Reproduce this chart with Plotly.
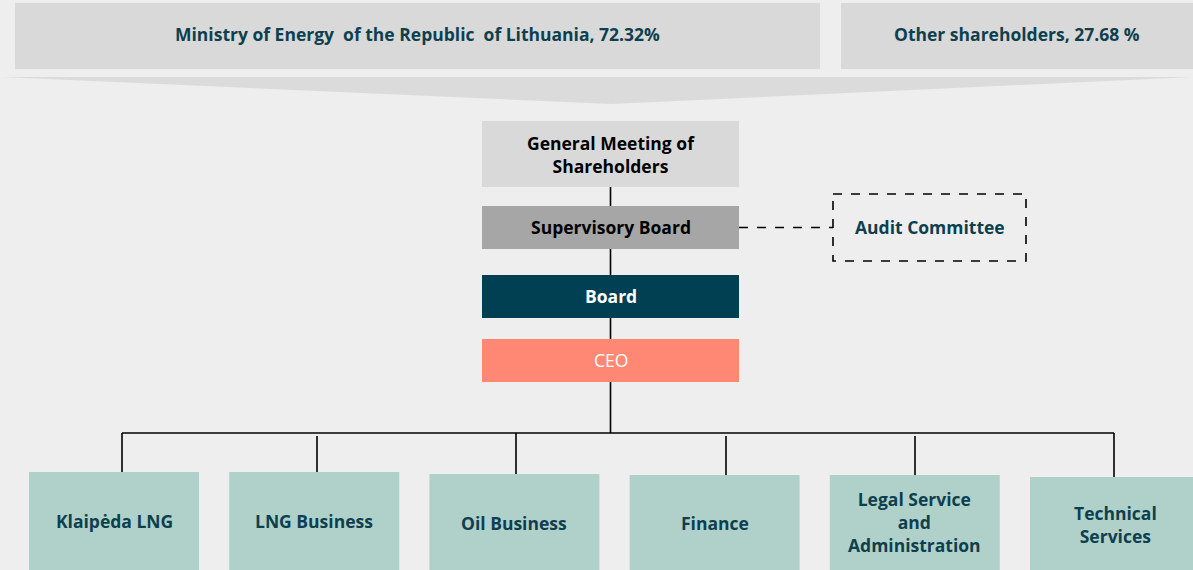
"""Org chart of the company's governance structure, drawn with plotly shapes."""
from __future__ import annotations

import plotly.graph_objects as go

# ---- data -------------------------------------------------------------------
SHAREHOLDERS = ["Ministry of Energy  of the Republic  of Lithuania", "Other shareholders"]
SHARE_PCT = ["72.32%", "27.68 %"]
GOVERNANCE = ["General Meeting of<br>Shareholders", "Supervisory Board", "Board", "CEO"]
SIDE_UNIT = "Audit Committee"
DEPARTMENTS = [
    "Klaipėda LNG",
    "LNG Business",
    "Oil Business",
    "Finance",
    "Legal Service<br>and<br>Administration",
    "Technical<br>Services",
]

# ---- style ------------------------------------------------------------------
_BG = "#EEEEEE"
_GREY = "#D9D9D9"
_MID = "#A6A6A6"
_TEAL = "#014052"
_SALMON = "#FF8874"
_MINT = "#B0D1CA"
_INK = "#0E3F4F"
_FONT = "Open Sans"
_SIZE = 17.5
W, H = 1193, 570

# layout frames (x0, y0, x1, y1) in pixel space
_TOP_BOXES = [(15, 3, 820, 69), (841, 3, 1193, 69)]
_GOV_X = (482, 739)
_GOV_Y = [(121, 187), (206, 249), (275, 318), (339, 382)]
_GOV_FILL = [_GREY, _MID, _TEAL, _SALMON]
_GOV_TEXT = ["black", "black", "white", "white"]
_GOV_BOLD = [True, True, True, False]
_AUDIT = (833, 194, 1026, 261)
_BUS_Y = 433
_DEPT_LEFT = 29
_DEPT_W = 170
_DEPT_STEP = 200.2
_DEPT_TOP = [472, 472, 474, 475, 475, 477]
_DEPT_LINK_X = [122, 317, 516, 726, 915, 1114]
_DEPT_LINK_Y0 = [433, 436, 433, 436, 436, 433]
_DEPT_TEXT_Y = [521, 521, 523, 523, 522, 524]


def _rect(fig, x0, y0, x1, y1, fill, line=None):
    fig.add_shape(type="rect", x0=x0, y0=y0, x1=x1, y1=y1, fillcolor=fill,
                  line=line or dict(width=0), layer="below")


def _line(fig, x0, y0, x1, y1, dash="solid"):
    fig.add_shape(type="line", x0=x0, y0=y0, x1=x1, y1=y1,
                  line=dict(color="black", width=1.6, dash=dash))


def _text(fig, x, y, text, color=_INK, bold=True):
    fig.add_annotation(x=x, y=y, text=f"<b>{text}</b>" if bold else text,
                       showarrow=False, xanchor="center", yanchor="middle",
                       font=dict(family=_FONT, size=_SIZE, color=color))


def org_chart() -> go.Figure:
    fig = go.Figure()

    # shareholders
    for (x0, y0, x1, y1), name, pct in zip(_TOP_BOXES, SHAREHOLDERS, SHARE_PCT):
        _rect(fig, x0, y0, x1, y1, _GREY)
        _text(fig, (x0 + x1) / 2, (y0 + y1) / 2 - 2, f"{name}, {pct}")
    # funnel arrow pointing down to the general meeting
    fig.add_shape(type="path", path="M 2,77 L 1193,77 L 611,104 Z",
                  fillcolor="#DBDBDB", line=dict(width=0), layer="below")

    # governance chain
    cx = sum(_GOV_X) / 2
    for i, (label, (y0, y1)) in enumerate(zip(GOVERNANCE, _GOV_Y)):
        _rect(fig, _GOV_X[0], y0, _GOV_X[1], y1, _GOV_FILL[i])
        _text(fig, cx, (y0 + y1) / 2 - (i > 0), label, color=_GOV_TEXT[i],
              bold=_GOV_BOLD[i])
        if i:
            _line(fig, cx, _GOV_Y[i - 1][1], cx, y0)

    # audit committee (dashed)
    ax0, ay0, ax1, ay1 = _AUDIT
    fig.add_shape(type="rect", x0=ax0, y0=ay0, x1=ax1, y1=ay1,
                  fillcolor="rgba(0,0,0,0)",
                  line=dict(color="black", width=1.6, dash="dash"))
    _line(fig, _GOV_X[1], (ay0 + ay1) / 2, ax0, (ay0 + ay1) / 2, dash="dash")
    _text(fig, (ax0 + ax1) / 2, (ay0 + ay1) / 2 - 1, SIDE_UNIT)

    # departments
    _line(fig, cx, _GOV_Y[-1][1], cx, _BUS_Y)
    for i, label in enumerate(DEPARTMENTS):
        x0 = _DEPT_LEFT + i * _DEPT_STEP
        x1 = min(x0 + _DEPT_W, W)
        _rect(fig, x0, _DEPT_TOP[i], x1, H + 5, _MINT)
        _line(fig, _DEPT_LINK_X[i], _DEPT_LINK_Y0[i], _DEPT_LINK_X[i], _DEPT_TOP[i])
        _text(fig, x0 + _DEPT_W / 2, _DEPT_TEXT_Y[i], label)
    _line(fig, _DEPT_LINK_X[0], _BUS_Y, _DEPT_LINK_X[-1], _BUS_Y)

    fig.update_layout(
        width=W, height=H, margin=dict(l=0, r=0, t=0, b=0),
        paper_bgcolor=_BG, plot_bgcolor=_BG, showlegend=False,
        xaxis=dict(range=[0, W], visible=False, fixedrange=True),
        yaxis=dict(range=[H, 0], visible=False, fixedrange=True),
    )
    return fig


fig = org_chart()
fig.write_html("out.html", config={"displayModeBar": False},
               post_script="document.body.style.margin='0';")
